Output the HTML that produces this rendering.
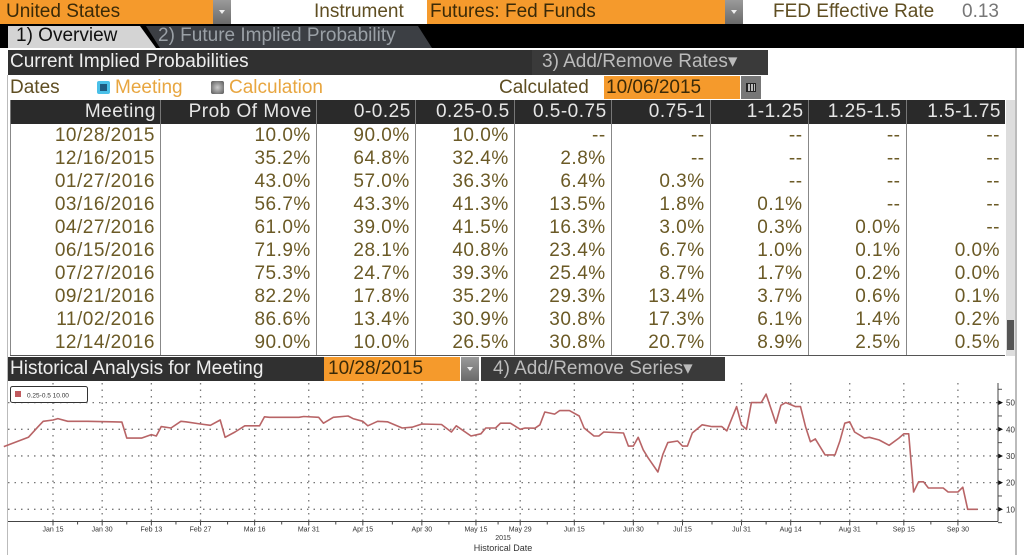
<!DOCTYPE html>
<html><head><meta charset="utf-8">
<style>
*{margin:0;padding:0;box-sizing:border-box}
body{width:1024px;height:555px;overflow:hidden;background:#fff;font-family:"Liberation Sans",sans-serif;position:relative}
.a{position:absolute;white-space:nowrap}
.t19{font-size:19px;line-height:24px}
.olive{color:#5f4e22}
.orange{background:#f59a2c}
.dd{background:linear-gradient(#9a9a9a,#6a6a6a);width:18px;height:24px}
.dd:after{content:"";position:absolute;left:6px;top:10px;border-left:3px solid transparent;border-right:3px solid transparent;border-top:4px solid #eee}
table{border-collapse:collapse;position:absolute;left:10px;top:100px;width:995px}
th{background:#2a2a2a;color:#e6e6e6;font-weight:normal;font-size:19px;height:24px;text-align:right;padding:0 4px;border-left:1px solid #777;letter-spacing:.5px}
td{font-size:19px;height:23.1px;line-height:22px;text-align:right;padding:0 5px;color:#6b5a26;border-left:1px solid #888;letter-spacing:.5px}
</style></head><body>
<!-- top bar -->
<div class="a orange t19" style="left:0;top:0;width:213px;height:24px;padding-left:6px;color:#3a2a08">United States</div>
<div class="a dd" style="left:213px;top:0"></div>
<div class="a t19 olive" style="left:314px;top:0">Instrument</div>
<div class="a orange t19" style="left:427px;top:0;width:298px;height:24px;padding-left:3px;color:#3a2a08">Futures: Fed Funds</div>
<div class="a dd" style="left:725px;top:0"></div>
<div class="a t19 olive" style="left:773px;top:0">FED Effective Rate</div>
<div class="a t19" style="left:962px;top:0;color:#777">0.13</div>
<!-- tabs -->
<div class="a" style="left:0;top:24px;width:1024px;height:24px;background:#000"></div>
<svg class="a" style="left:0;top:24px" width="1024" height="24">
<polygon points="8,2 140,2 156,24 8,24" fill="#d4d4d4"/>
<polygon points="146,2 418,2 432,24 160,24" fill="#3c3f44"/>
</svg>
<div class="a t19" style="left:16px;top:24px;color:#111">1) Overview</div>
<div class="a t19" style="left:158px;top:24px;color:#9aa0a6">2) Future Implied Probability</div>
<!-- section header -->
<div class="a t19" style="left:8px;top:50px;width:524px;height:25px;background:#303030;color:#eee;padding-left:2px">Current Implied Probabilities</div>
<div class="a t19" style="left:532px;top:50px;width:236px;height:25px;background:#3a3a3a;color:#bbb;padding-left:10px">3) Add/Remove Rates▾</div>
<div class="a" style="left:1015px;top:48px;width:2px;height:507px;background:#bbb"></div>
<div class="a" style="left:7px;top:75px;width:1px;height:480px;background:#bbb"></div>
<!-- dates row -->
<div class="a t19 olive" style="left:10px;top:76px">Dates</div>
<div class="a" style="left:97px;top:81px;width:13px;height:13px;background:#1e5a80;border:3px solid #4ac0e8;border-radius:2px"></div>
<div class="a t19" style="left:115px;top:76px;color:#e8a640">Meeting</div>
<div class="a" style="left:211px;top:81px;width:13px;height:13px;background:radial-gradient(#ccc,#555);border-radius:2px"></div>
<div class="a t19" style="left:229px;top:76px;color:#e8a640">Calculation</div>
<div class="a t19 olive" style="left:499px;top:76px">Calculated</div>
<div class="a orange t19" style="left:604px;top:76px;width:136px;height:23px;padding-left:2px;color:#3a2a08">10/06/2015</div>
<div class="a" style="left:741px;top:76px;width:20px;height:23px;background:#777"><div style="position:absolute;left:5px;top:7px;width:10px;height:9px;border:1px solid #222;background:repeating-linear-gradient(90deg,#222 0 1px,#bbb 1px 3px)"></div></div>
<!-- table -->
<table>
<colgroup><col style="width:150px"><col style="width:156px"><col style="width:99px"><col style="width:99px"><col style="width:97px"><col style="width:99px"><col style="width:98px"><col style="width:98px"><col style="width:99px"></colgroup>
<tr><th>Meeting</th><th>Prob Of Move</th><th>0-0.25</th><th>0.25-0.5</th><th>0.5-0.75</th><th>0.75-1</th><th>1-1.25</th><th>1.25-1.5</th><th>1.5-1.75</th></tr>
<tr><td>10/28/2015</td><td>10.0%</td><td>90.0%</td><td>10.0%</td><td>--</td><td>--</td><td>--</td><td>--</td><td>--</td></tr>
<tr><td>12/16/2015</td><td>35.2%</td><td>64.8%</td><td>32.4%</td><td>2.8%</td><td>--</td><td>--</td><td>--</td><td>--</td></tr>
<tr><td>01/27/2016</td><td>43.0%</td><td>57.0%</td><td>36.3%</td><td>6.4%</td><td>0.3%</td><td>--</td><td>--</td><td>--</td></tr>
<tr><td>03/16/2016</td><td>56.7%</td><td>43.3%</td><td>41.3%</td><td>13.5%</td><td>1.8%</td><td>0.1%</td><td>--</td><td>--</td></tr>
<tr><td>04/27/2016</td><td>61.0%</td><td>39.0%</td><td>41.5%</td><td>16.3%</td><td>3.0%</td><td>0.3%</td><td>0.0%</td><td>--</td></tr>
<tr><td>06/15/2016</td><td>71.9%</td><td>28.1%</td><td>40.8%</td><td>23.4%</td><td>6.7%</td><td>1.0%</td><td>0.1%</td><td>0.0%</td></tr>
<tr><td>07/27/2016</td><td>75.3%</td><td>24.7%</td><td>39.3%</td><td>25.4%</td><td>8.7%</td><td>1.7%</td><td>0.2%</td><td>0.0%</td></tr>
<tr><td>09/21/2016</td><td>82.2%</td><td>17.8%</td><td>35.2%</td><td>29.3%</td><td>13.4%</td><td>3.7%</td><td>0.6%</td><td>0.1%</td></tr>
<tr><td>11/02/2016</td><td>86.6%</td><td>13.4%</td><td>30.9%</td><td>30.8%</td><td>17.3%</td><td>6.1%</td><td>1.4%</td><td>0.2%</td></tr>
<tr><td>12/14/2016</td><td>90.0%</td><td>10.0%</td><td>26.5%</td><td>30.8%</td><td>20.7%</td><td>8.9%</td><td>2.5%</td><td>0.5%</td></tr>
</table>
<div class="a" style="left:10px;top:355px;width:995px;height:1px;background:#555"></div>
<div class="a" style="left:1006px;top:100px;width:9px;height:256px;background:#ddd"><div style="position:absolute;left:1px;top:220px;width:7px;height:30px;background:#555"></div></div>
<!-- historical header -->
<div class="a t19" style="left:8px;top:357px;width:316px;height:24px;background:#303030;color:#eee;padding-left:2px">Historical Analysis for Meeting</div>
<div class="a orange t19" style="left:324px;top:357px;width:136px;height:24px;padding-left:4px;color:#3a2a08">10/28/2015</div>
<div class="a dd" style="left:461px;top:357px"></div>
<div class="a t19" style="left:481px;top:357px;width:244px;height:24px;background:#3a3a3a;color:#bbb;padding-left:12px">4) Add/Remove Series▾</div>
<!-- chart -->
<svg class="a" id="chart" style="left:0;top:0" width="1024" height="555"></svg>
<script>
const seriesIdx=[0,5,7,8,10,11,13,17,22,24,25,28,30,31,32,34,36,37,40,42,44,45,47,49,52,53,54,60,61,64,65,67,70,71,73,74,76,78,81,83,85,89,91,92,95,97,98,100,101,103,105,106,108,109,110,112,113,115,117,118,120,121,122,126,127,128,129,130,131,133,134,135,137,138,139,140,142,144,146,147,149,150,151,152,154,155,157,158,159,161,162,163,164,165,167,169,170,171,172,173,175,176,178,180,182,183,184,185,186,187,188,191,192,194,195,196,198];
const seriesVals=[33.5,37,41,43,43.5,44,43,43,42.8,42.7,36.7,36.7,38,37.5,41,40.5,43,42.8,42,41.5,43.5,37,39,41.3,41.3,44.7,44.5,44.5,44.8,44.5,42.3,44.5,45,44,43,41.3,43,42.8,40.5,40.8,42,41.8,39,41.3,37.5,38.3,40.5,40.5,42.3,42.3,40,40.5,40.4,41.7,46.5,45.7,47,47,45,40.5,37.5,37.5,39,38.6,33.7,33.7,37,32.3,29.3,24,30.5,35,35.6,33.7,33.7,38.6,41.7,41,41,39.4,48.5,41.7,40,50,50,53.2,42.3,49,50,48.5,48.5,41,35.3,36.4,30.4,30.4,35.6,42.3,42.8,39,36.7,37,36,34,36.7,38.3,38.3,16.5,20.3,20.3,18,18,16.5,16.5,18.3,10,10];
const tickIdx=[10,20,30,40,51,62,73,85,96,105,116,128,138,150,160,172,183,194];
const tickLabels=["Jan 15","Jan 30","Feb 13","Feb 27","Mar 16","Mar 31","Apr 15","Apr 30","May 15","May 29","Jun 15","Jun 30","Jul 15","Jul 31","Aug 14","Aug 31","Sep 15","Sep 30"];
const yTicks=[10,20,30,40,50];
const NS="http://www.w3.org/2000/svg";
const svg=document.getElementById('chart');
const X=i=>53+(i-10)*4.918;
const Y=v=>509.3-(v-10)*2.667;
function mk(tag,at,p){const e=document.createElementNS(NS,tag);for(const k in at)e.setAttribute(k,at[k]);(p||svg).appendChild(e);return e;}
const L=8,R=998,T=383,B=521.5;
// horizontal grid
yTicks.forEach(v=>{
 const g=mk('line',{x1:L,x2:R,y1:Y(v),y2:Y(v),stroke:'#777','stroke-width':1.3,'stroke-dasharray':'1.5 5'});
 
 
 const t=mk('text',{x:R+8,y:Y(v)+3,'font-size':8,fill:'#333'});t.textContent=v;
 
 
 mk('polygon',{points:`${R},${Y(v)-2.5} ${R+5},${Y(v)} ${R},${Y(v)+2.5}`,fill:'#111'});
 mk('line',{x1:R,x2:R+4,y1:Y(v+5),y2:Y(v+5),stroke:'#555'});
});
mk('line',{x1:R,x2:R+4,y1:Y(5),y2:Y(5),stroke:'#555'});
// vertical grid + x ticks
tickIdx.forEach((ti,k)=>{
 const x=X(ti);
 const g=mk('line',{x1:x,x2:x,y1:T,y2:B,stroke:'#777','stroke-width':1.3,'stroke-dasharray':'1.5 5'});
 
 
 mk('line',{x1:x,x2:x,y1:B,y2:B+4,stroke:'#444'});
 if(k<tickIdx.length-1){const m=(X(ti)+X(tickIdx[k+1]))/2;mk('line',{x1:m,x2:m,y1:B,y2:B+3,stroke:'#444'});}
 const t=mk('text',{x:x,y:B+10,'font-size':7,fill:'#333','text-anchor':'middle'});t.textContent=tickLabels[k];
 
 
});
mk('line',{x1:L,x2:R,y1:B,y2:B,stroke:'#444'});
mk('line',{x1:R,x2:R,y1:T,y2:B,stroke:'#444'});
const yr=mk('text',{x:503,y:540,'font-size':7,fill:'#333','text-anchor':'middle'});yr.textContent='2015';


const xt=mk('text',{x:503,y:551,'font-size':9,fill:'#333','text-anchor':'middle'});xt.textContent='Historical Date';


// series line
const pts=seriesIdx.map((i,k)=>X(i).toFixed(1)+','+Y(seriesVals[k]).toFixed(1)).join(' ');
const pl=mk('polyline',{points:pts,fill:'none',stroke:'#b86466','stroke-width':1.6,'stroke-linejoin':'round'});


// legend
const lg=mk('g',{});


mk('rect',{x:10.5,y:386.5,width:77,height:16,rx:2,fill:'#fff',stroke:'#333'},lg);
mk('rect',{x:15,y:391,width:6,height:6,fill:'#c05a5e'},lg);
const lt=mk('text',{x:27,y:397.5,'font-size':6.5,fill:'#333'},lg);lt.textContent='0.25-0.5  10.00';
</script>
</body></html>
